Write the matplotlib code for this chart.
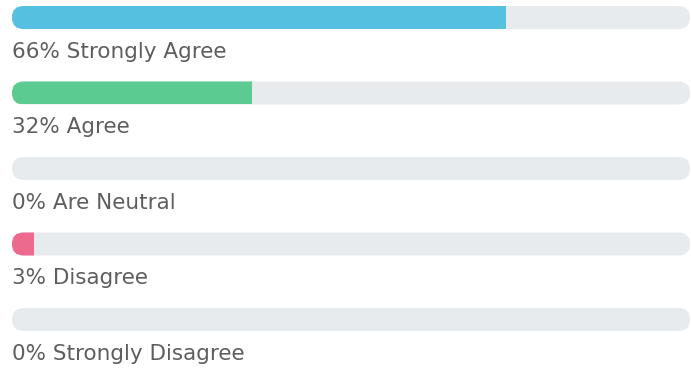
import matplotlib
matplotlib.use("Agg")
import matplotlib.pyplot as plt
from matplotlib.patches import FancyBboxPatch

# ---- data ----
categories = ["Strongly Agree", "Agree", "Are Neutral", "Disagree", "Strongly Disagree"]
percents = [66, 32, 0, 3, 0]
colors = ["#55c0e0", "#5ccb91", "#d9dde0", "#ec6a8e", "#d9dde0"]
track_color = "#e8ebed"
text_color = "#5e5e5e"
scale_max = 90.5  # value that fills the whole track

W, H, DPI = 691, 371, 100
fig = plt.figure(figsize=(W / DPI, H / DPI), dpi=DPI)
ax = fig.add_axes([0, 0, 1, 1])
ax.set_axis_off()

left_px, right_px = 12, 690
k = scale_max / (right_px - left_px)          # value units per pixel (x)
ax.set_xlim(-left_px * k, scale_max + (W - right_px) * k)
row_px, first_px = 75.5, 17.5                  # pixel spacing of rows
ax.set_ylim((H - first_px) / row_px, -first_px / row_px)

bar_h_px = 23
bar_h = bar_h_px / row_px
radius_px = bar_h_px / 2
aspect = (1 / row_px) / k

for i, (cat, p, c) in enumerate(zip(categories, percents, colors)):
    track = FancyBboxPatch((0, i - bar_h / 2), scale_max, bar_h,
                           boxstyle=f"round,pad=0,rounding_size={radius_px * k}",
                           mutation_aspect=aspect,
                           facecolor=track_color, edgecolor="none", zorder=1)
    ax.add_patch(track)
    if p > 0:
        bars = ax.barh([i], [p], height=bar_h, left=0, color=c, zorder=2)
        for b in bars:
            b.set_clip_path(track)
    ax.text(0, i + 40.5 / row_px, f"{p}% {cat}", ha="left", va="baseline",
            fontsize=15.5, family="DejaVu Sans", color=text_color)

fig.savefig("out.png", dpi=DPI, facecolor="white")
